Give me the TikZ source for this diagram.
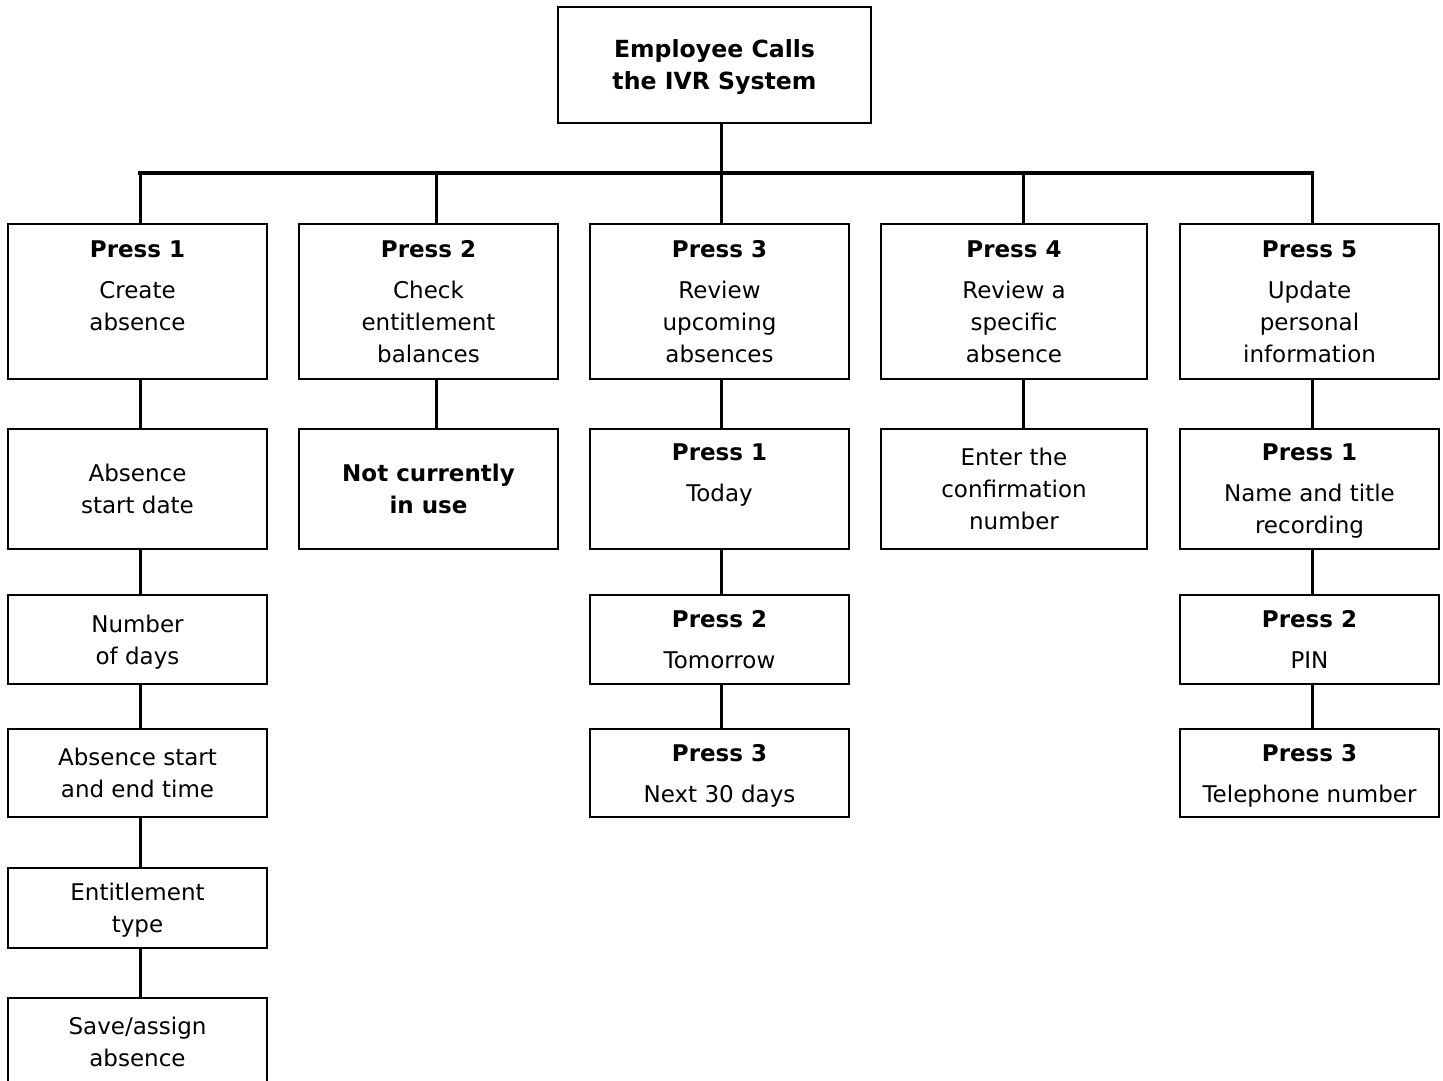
\documentclass[tikz,border=0pt]{standalone}
\usepackage{fontspec}
\setmainfont{DejaVu Sans}
\newcommand{\pressline}[1]{\textbf{Press #1}\\[4.5pt]}
\tikzset{
  box/.style={draw, line width=1pt, rectangle, align=center, inner sep=2pt, text depth=0pt,
    minimum width=129.5pt, font=\fontsize{11.5}{16}\selectfont},
  wire/.style={line width=1.5pt},
  bus/.style={line width=2pt, line cap=rect}
}
\begin{document}
\begin{tikzpicture}[x=0.5pt, y=-0.5pt]
        \useasboundingbox (0,0) rectangle (1443,1080);
        \clip (0,0) rectangle (1443,1080);

        % Taps on the bus
        \coordinate (bus) at (721,173);
        \coordinate (t1) at (140,173);
        \coordinate (t2) at (436,173);
        \coordinate (t3) at (721,173);
        \coordinate (t4) at (1023,173);
        \coordinate (t5) at (1312,173);

        % Top box
        \node[box, font=\fontsize{11.8}{16}\selectfont\bfseries, minimum width=156.5pt, minimum height=58pt]
          (ivr) at (714.5,65) {Employee Calls\\the IVR System};

        % Menu options
        \node[box, minimum height=77.5pt] (create) at (137.5,301.5) {\pressline{1}Create\\absence\\\mbox{}};
        \node[box, minimum height=77.5pt] (check) at (428.5,301.5) {\pressline{2}Check\\entitlement\\balances};
        \node[box, minimum height=77.5pt] (review) at (719.5,301.5) {\pressline{3}Review\\upcoming\\absences};
        \node[box, minimum height=77.5pt, minimum width=133pt] (specific) at (1014,301.5) {\pressline{4}Review a\\specific\\absence};
        \node[box, minimum height=77.5pt] (update) at (1309.5,301.5) {\pressline{5}Update\\personal\\information};

        % Second level
        \node[box, minimum height=60pt] (start) at (137.5,489) {Absence\\start date};
        \node[box, minimum height=60pt, font=\fontsize{11.5}{16}\selectfont\bfseries] (unused) at (428.5,489) {Not currently\\in use};
        \node[box, minimum height=60pt] (today) at (719.5,489) {\pressline{1}Today\\\mbox{}};
        \node[box, minimum height=60pt, minimum width=133pt] (confirm) at (1014,489) {Enter the\\confirmation\\number};
        \node[box, minimum height=60pt] (name) at (1309.5,489) {\pressline{1}Name and title\\recording};

        % Third level
        \node[box, minimum height=44.5pt] (days) at (137.5,639.5) {Number\\of days};
        \node[box, minimum height=44.5pt] (tomorrow) at (719.5,639.5) {\pressline{2}Tomorrow};
        \node[box, minimum height=44.5pt] (pin) at (1309.5,639.5) {\pressline{2}PIN};

        % Fourth level
        \node[box, minimum height=44pt] (times) at (137.5,773) {Absence start\\and end time};
        \node[box, minimum height=44pt] (next) at (719.5,773) {\pressline{3}Next 30 days};
        \node[box, minimum height=44pt] (phone) at (1309.5,773) {\pressline{3}Telephone number};

        % Rest of column one
        \node[box, minimum height=40pt] (type) at (137.5,908) {Entitlement\\type};
        \node[box, minimum height=43.5pt] (save) at (137.5,1041.5) {Save/assign\\absence};

        % Bus and drops
        \draw[wire] (ivr.south -| bus) -- (bus);
        \draw[bus] (t1) -- (t5);
        \foreach \t/\n in {t1/create, t2/check, t3/review, t4/specific, t5/update}
          \draw[wire] (\t) -- (\n.north -| \t);

        % Links down the columns
        \foreach \a/\b/\t in {create/start/t1, start/days/t1, days/times/t1, times/type/t1, type/save/t1,
                              check/unused/t2,
                              review/today/t3, today/tomorrow/t3, tomorrow/next/t3,
                              specific/confirm/t4,
                              update/name/t5, name/pin/t5, pin/phone/t5}
          \draw[wire] (\a.south -| \t) -- (\b.north -| \t);
\end{tikzpicture}
\end{document}
